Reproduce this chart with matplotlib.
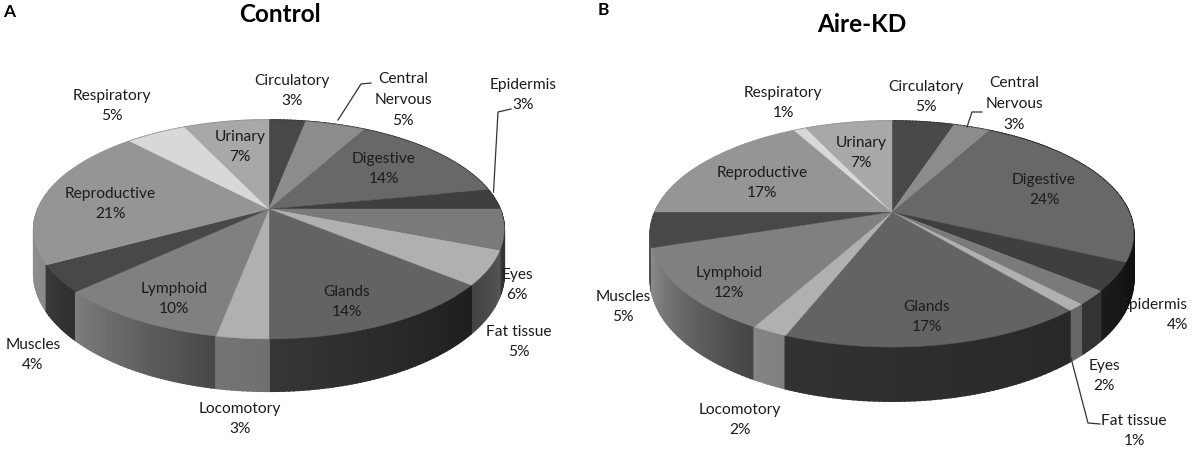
import matplotlib
matplotlib.use('Agg')
import matplotlib.pyplot as plt
import numpy as np

plt.rcParams['font.family'] = ['Lato', 'DejaVu Sans']

organs = ['Circulatory', 'Central\nNervous', 'Digestive', 'Epidermis', 'Eyes', 'Fat tissue', 'Glands',
          'Locomotory', 'Lymphoid', 'Muscles', 'Reproductive', 'Respiratory', 'Urinary']
control_values = [3, 5, 14, 3, 6, 5, 14, 3, 10, 4, 21, 5, 7]
aire_values = [5, 3, 24, 4, 2, 1, 17, 2, 12, 5, 17, 1, 7]

# top face greys, same order for both pies
top_colors = ['#484848', '#8c8c8c', '#686868', '#3f3f3f', '#7a7a7a', '#b0b0b0', '#636363',
              '#b0b0b0', '#808080', '#484848', '#959595', '#d8d8d8', '#a8a8a8']

# side wall greys (start, end of the wedge going clockwise)
control_sides = [(0x30, 0x30), (0x30, 0x30), (0x30, 0x30), (0x2c, 0x2c), (0x30, 0x34), (0x55, 0x44),
                 (0x1e, 0x36), (0x70, 0x74), (0x48, 0x7c), (0x30, 0x3a), (0x8a, 0xa0), (0x90, 0x90), (0x90, 0x90)]
aire_sides = [(0x30, 0x30), (0x30, 0x30), (0x12, 0x12), (0x14, 0x1a), (0x33, 0x33), (0x66, 0x66),
              (0x28, 0x32), (0x80, 0x84), (0x45, 0x8c), (0x50, 0x50), (0x8a, 0xa0), (0x90, 0x90), (0x90, 0x90)]

# label centres in picture pixels
control_pos = [(292, 91), (403, 100), (384, 169), (523, 95), (517, 285), (519, 342), (347, 302),
               (240, 419), (174, 299), (33, 355), (110, 204), (112, 106), (240, 147)]
aire_pos = [(926, 97), (1014, 104), (1044, 190), None, (1104, 376), (1134, 431), (927, 317),
            (740, 420), (729, 283), (623, 307), (762, 183), (783, 103), (861, 153)]

LABEL_SIZE = 11.2
LABEL_GAP = 1.62


def project(theta, cx, cy, rx, ry, k):
    # clockwise angle from the top of the pie, far side squeezed by perspective
    u = np.sin(theta)
    v = np.cos(theta)
    w = 1 + k * v
    return cx + rx * u / w, cy - ry * v / w, w


def draw_pie(ax, values, sides, positions, cx, cy, rx, ry, k, depth):
    edges = np.deg2rad(np.cumsum([0] + values) * 3.6)

    strips = []
    for i in range(len(values)):
        n = max(2, int(np.degrees(edges[i + 1] - edges[i])))
        t = np.linspace(edges[i], edges[i + 1], n + 1)
        shade = np.linspace(sides[i][0], sides[i][1], n) / 255
        x, y, w = project(t, cx, cy, rx, ry, k)
        for j in range(n):
            xs = [x[j], x[j + 1], x[j + 1], x[j]]
            ys = [y[j], y[j + 1], y[j + 1] + depth / w[j + 1], y[j] + depth / w[j]]
            strips.append((y[j], xs, ys, (shade[j],) * 3))

    # far strips first so the front wall ends up on top
    strips.sort(key=lambda s: s[0])
    for _, xs, ys, c in strips:
        ax.fill(xs, ys, color=c, lw=1.3)

    for i in range(len(values)):
        t = np.linspace(edges[i], edges[i + 1], 80)
        x, y, _ = project(t, cx, cy, rx, ry, k)
        ax.fill(np.r_[cx, x], np.r_[cy, y], facecolor=top_colors[i], edgecolor=top_colors[i], lw=0.3)

    for name, val, pos in zip(organs, values, positions):
        if pos is None:
            continue
        ax.text(pos[0], pos[1], f'{name}\n{val}%', ha='center', va='center', fontsize=LABEL_SIZE,
                color='#1c1c1c', linespacing=LABEL_GAP)


fig = plt.figure(figsize=(11.92, 4.51), dpi=100)
ax_a = fig.add_axes([0, 0, 0.5, 1])
ax_b = fig.add_axes([0.5, 0, 0.5, 1])
ax_a.set_xlim(0, 596)
ax_b.set_xlim(596, 1192)
for ax in (ax_a, ax_b):
    ax.set_ylim(451, 0)
    ax.axis('off')

draw_pie(ax_a, control_values, control_sides, control_pos, 269, 209, 231, 105.6, 0.187, 42.5)
draw_pie(ax_b, aire_values, aire_sides, aire_pos, 892, 212, 237, 108.7, 0.195, 43.5)
# epidermis label of panel B is right aligned
ax_b.text(1188, 315, f'Epidermis\n{aire_values[3]}%', ha='right', va='center', fontsize=LABEL_SIZE,
          color='#1c1c1c', linespacing=LABEL_GAP, multialignment='right')

# leader lines
ax_a.plot([338, 361, 371], [120, 84, 83], color='#333333', lw=0.9)
ax_a.plot([493.5, 498, 511], [192, 112, 109], color='#333333', lw=0.9)
ax_b.plot([967, 972, 982], [127, 112, 112], color='#333333', lw=0.9)
ax_b.plot([1071, 1088, 1100], [358, 423, 424], color='#333333', lw=0.9)

ax_a.text(280, 14, 'Control', ha='center', va='center', fontsize=17.5, fontweight='bold', color='black')
ax_b.text(862, 25, 'Aire-KD', ha='center', va='center', fontsize=17.5, fontweight='bold', color='black')
ax_a.text(9, 12, 'A', ha='center', va='center', fontsize=12.5, fontweight='bold', color='black')
ax_b.text(603, 10, 'B', ha='center', va='center', fontsize=12.5, fontweight='bold', color='black')

fig.savefig('out.png', dpi=100, facecolor='white')
